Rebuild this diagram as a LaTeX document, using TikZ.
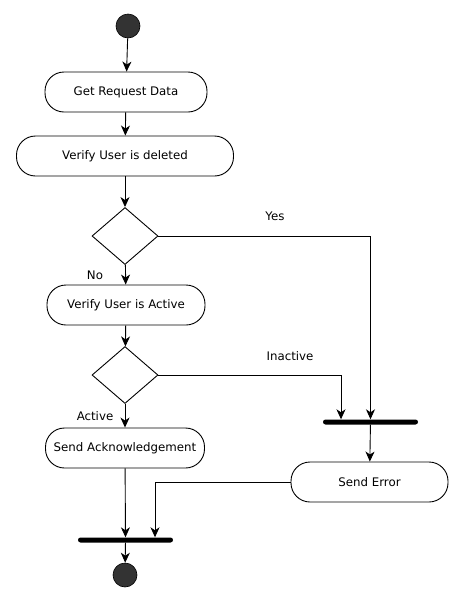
\documentclass[tikz,border=0pt]{standalone}
\usepackage{fontspec}
\setmainfont{DejaVu Sans}
\usepackage{xcolor}
\usepackage{tikz}
\usetikzlibrary{shapes.geometric, arrows.meta, positioning, calc}
\definecolor{ActDark}{RGB}{51, 51, 51}
\definecolor{ActLine}{RGB}{0, 0, 0}

\tikzset{
  actbox/.style={draw=ActLine, line width=0.9pt, rounded corners=19pt, fill=white,
                 minimum height=40pt, inner sep=0pt, font=\fontsize{11.8}{14}\selectfont},
  choice/.style={draw=ActLine, line width=0.9pt, diamond, fill=white, inner sep=0pt,
                 minimum width=66pt, minimum height=57pt},
  syncbar/.style={fill=black, rounded corners=2.5pt, minimum width=95pt,
                  minimum height=5pt, inner sep=0pt},
  dot/.style={circle, fill=ActDark, draw=black, line width=0.6pt, minimum size=24pt, inner sep=0pt},
  flow/.style={line width=0.9pt, -{Stealth[length=10pt, width=9pt, inset=3pt]}},
  guard/.style={font=\fontsize{11.8}{14}\selectfont, inner sep=0pt}
}

\begin{document}
\begin{tikzpicture}[x=1pt,y=-1pt]
  \path[use as bounding box, fill=white] (0,0) rectangle (464,603);

  % main column
  \node[dot] (start) at (128,26) {};
  \node[actbox, minimum width=162pt] (getData) at (126,92) {Get Request Data};
  \node[actbox, minimum width=217pt] (checkDel) at (125,156) {Verify User is deleted};
  \node[choice] (isDel) at (125,236) {};
  \node[actbox, minimum width=158pt] (checkAct) at (126,305) {Verify User is Active};
  \node[choice] (isAct) at (125,375) {};
  \node[actbox, minimum width=159pt] (sendAck) at (125,448) {Send Acknowledgement};
  \node[syncbar] (joinEnd) at (125.5,540) {};
  \node[dot] (stop) at (125,575) {};

  % error branch
  \node[syncbar] (joinErr) at (370.5,422) {};
  \node[actbox, minimum width=157pt] (sendErr) at (369.5,482) {Send Error};
  \coordinate (errIn) at ([xshift=-29.5pt]joinErr.north);
  \coordinate (endIn) at ([xshift=29.5pt]joinEnd.north);

  \draw[flow] (start) -- (getData);
  \draw[flow] (getData) -- (checkDel);
  \draw[flow] (checkDel) -- (isDel);
  \draw[flow] (isDel) -- (checkAct);
  \draw[flow] (isDel.east) -| (joinErr);
  \draw[flow] (checkAct) -- (isAct);
  \draw[flow] (isAct) -- (sendAck);
  \draw[flow] (isAct.east) -| (errIn);
  \draw[flow] (sendAck) -- (joinEnd);
  \draw[flow] (joinErr) -- (sendErr);
  \draw[flow] (sendErr.west) -| (endIn);
  \draw[flow] (joinEnd) -- (stop);

  % guards
  \node[guard] (yesLbl) at (275,216) {Yes};
  \node[guard] (noLbl) at (95,275) {No};
  \node[guard] (inactLbl) at (290,356) {Inactive};
  \node[guard] (actLbl) at (95,416) {Active};
\end{tikzpicture}
\end{document}
